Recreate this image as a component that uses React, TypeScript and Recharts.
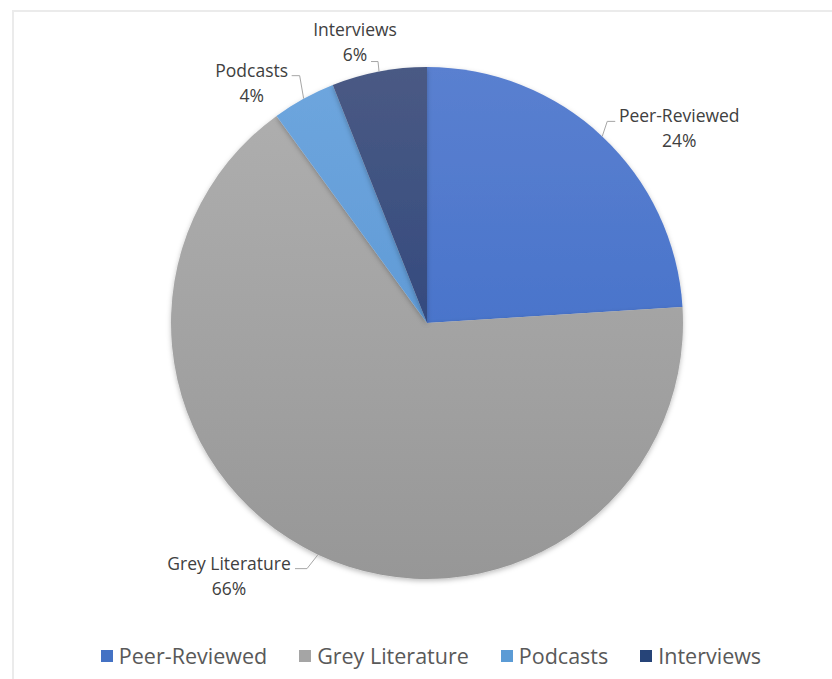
import React from 'react';
import { PieChart, Pie, Cell } from 'recharts';

const categories = ['Peer-Reviewed', 'Grey Literature', 'Podcasts', 'Interviews'];
const shares = [24, 66, 4, 6];

// gradient stops per slice (top, bottom)
const colors: [string, string][] = [
  ['#5a80d0', '#3a69c6'],
  ['#b0b0b0', '#979797'],
  ['#6ea6de', '#5390cf'],
  ['#4a5a84', '#1f3b79'],
];
const legendColors = ['#4472c4', '#a5a5a5', '#5b9bd5', '#264478'];

// leader line + label block offsets, relative to the slice's outer mid point
const labelLayout = [
  { ex: 5, ey: -15, h: 8, tx: 64, ty: 6.5 },
  { ex: -11, ey: 14, h: -12, tx: -66, ty: 6.5 },
  { ex: -4, ey: -23, h: -8, tx: -40, ty: 7 },
  { ex: -1, ey: -10, h: -7, tx: -16, ty: -20.5 },
];

const data = categories.map((name, i) => ({ name, value: shares[i] }));

const RAD = Math.PI / 180;
const FONT = '"Open Sans", sans-serif';

const renderLabel = (p: any) => {
  const { cx, cy, midAngle, outerRadius, index, name, value } = p;
  const px = cx + outerRadius * Math.cos(-midAngle * RAD);
  const py = cy + outerRadius * Math.sin(-midAngle * RAD);
  const l = labelLayout[index];
  const ex = px + l.ex;
  const ey = py + l.ey;
  const fx = ex + l.h;
  const tx = fx + l.tx;
  const ty = ey + l.ty;
  return (
    <g key={`lbl-${index}`}>
      <polyline points={`${px},${py} ${ex},${ey} ${fx},${ey}`} fill="none" stroke="#a6a6a6" strokeWidth={1} />
      <text x={tx} y={ty - 12.5} textAnchor="middle" dominantBaseline="central" fill="#404040" fontSize={17.5} fontFamily={FONT}>
        {name}
      </text>
      <text x={tx} y={ty + 12.5} textAnchor="middle" dominantBaseline="central" fill="#404040" fontSize={17.5} fontFamily={FONT}>
        {value}%
      </text>
    </g>
  );
};

export default function App() {
  return (
    <div style={{ position: 'absolute', left: 0, top: 0, width: 832, height: 679, background: '#fff', overflow: 'hidden' }}>
      <div style={{ position: 'absolute', left: 12, top: 10, right: -4, bottom: -4, borderTop: '2px solid #ebebeb', borderLeft: '2px solid #ebebeb' }} />
      <div style={{ position: 'absolute', left: 0, top: 0 }}>
        <PieChart width={832} height={679} margin={{ top: 0, right: 0, bottom: 0, left: 0 }}>
          <defs>
            {colors.map((c, i) => (
              <linearGradient key={i} id={`g${i}`} gradientUnits="userSpaceOnUse" x1="0" y1="67" x2="0" y2="579">
                <stop offset="0%" stopColor={c[0]} />
                <stop offset="100%" stopColor={c[1]} />
              </linearGradient>
            ))}
            <filter id="shadow" x="-10%" y="-10%" width="120%" height="120%">
              <feDropShadow dx="0" dy="2" stdDeviation="2.5" floodColor="#000" floodOpacity="0.25" />
            </filter>
          </defs>
          <Pie
            data={data}
            dataKey="value"
            nameKey="name"
            cx={427}
            cy={323}
            outerRadius={256}
            startAngle={90}
            endAngle={-270}
            stroke="none"
            label={renderLabel}
            labelLine={false}
            isAnimationActive={false}
            style={{ filter: 'url(#shadow)' }}
          >
            {data.map((d, i) => (
              <Cell key={d.name} fill={`url(#g${i})`} />
            ))}
          </Pie>
        </PieChart>
      </div>
      <div
        style={{
          position: 'absolute',
          left: 0,
          width: 832,
          top: 643,
          display: 'flex',
          justifyContent: 'center',
          gap: 32,
          paddingLeft: 15,
          fontFamily: FONT,
          fontSize: 21.5,
          color: '#595959',
          lineHeight: '26px',
        }}
      >
        {categories.map((c, i) => (
          <div key={c} style={{ display: 'flex', alignItems: 'center' }}>
            <span style={{ display: 'inline-block', width: 12, height: 12, background: legendColors[i], marginRight: 6 }} />
            <span>{c}</span>
          </div>
        ))}
      </div>
    </div>
  );
}
